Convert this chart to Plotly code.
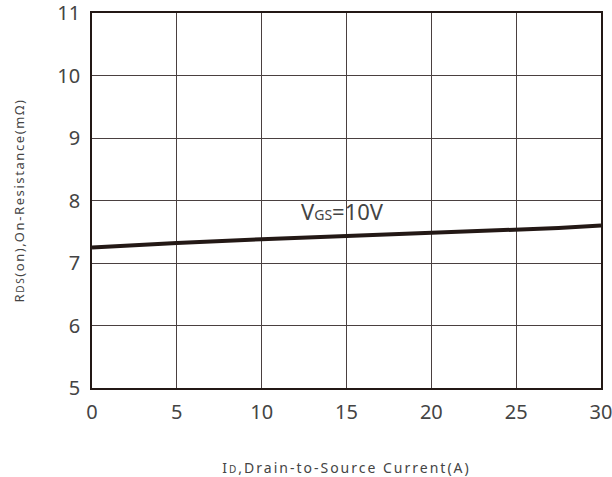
import plotly.graph_objects as go

current_a = [0, 2.5, 5, 10, 15, 20, 25, 27.5, 30]
rds_on_mohm = [7.25, 7.29, 7.32, 7.38, 7.43, 7.47, 7.52, 7.56, 7.60]
x_ticks = [0, 5, 10, 15, 20, 25, 30]
y_ticks = [5, 6, 7, 8, 9, 10, 11]

FONT = "Noto Sans, Liberation Sans, Arial"
TXT = "#444444"

fig = go.Figure()
fig.add_trace(go.Scatter(x=current_a, y=rds_on_mohm, mode="lines",
                         line=dict(color="#231815", width=4), showlegend=False))

fig.add_annotation(x=12.2, y=7.83, xanchor="left", yanchor="middle", showarrow=False,
                   text="V<span style='font-size:14px'>GS</span>=10V",
                   font=dict(size=22, color=TXT, family=FONT))

fig.update_layout(
    width=612, height=477,
    margin=dict(l=92, r=11, t=13, b=89),
    paper_bgcolor="white", plot_bgcolor="white",
    font=dict(family=FONT, color=TXT),
)
fig.update_xaxes(range=[0, 30], tickvals=x_ticks, ticks="", showgrid=True,
                 gridcolor="#4a4040", gridwidth=1, showline=True, linecolor="#231815",
                 linewidth=1.5, mirror=True, zeroline=False, automargin=False,
                 ticklabelstandoff=5, ticklabeloverflow="allow",
                 tickfont=dict(size=20, color=TXT),
                 title=dict(text="<span style='letter-spacing:2px'>I<span style='font-size:10px'>D</span>,Drain-to-Source Current(A)</span>",
                            font=dict(size=14, color=TXT), standoff=40))
fig.update_yaxes(range=[5, 11], tickvals=y_ticks, ticks="", showgrid=True,
                 gridcolor="#4a4040", gridwidth=1, showline=True, linecolor="#231815",
                 linewidth=1.5, mirror=True, zeroline=False, automargin=False,
                 ticklabelstandoff=6, ticklabeloverflow="allow",
                 tickfont=dict(size=20, color=TXT),
                 title=dict(text="<span style='letter-spacing:1.6px'>R<span style='font-size:10px'>DS</span>(on),On-Resistance(mΩ)</span>",
                            font=dict(size=13, color=TXT), standoff=30))

fig.write_html("out.html", post_script="document.body.style.margin='0px';",
               config={"displayModeBar": False})
